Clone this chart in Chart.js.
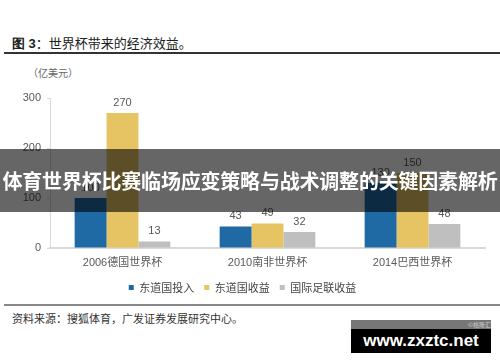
<!DOCTYPE html>
<html>
<head>
<meta charset="utf-8">
<script src="https://cdn.jsdelivr.net/npm/chart.js@4.4.0/dist/chart.umd.min.js"></script>
<style>
  html, body { margin: 0; padding: 0; background: #fff; }
  #wrap { position: relative; width: 500px; height: 362px; overflow: hidden; font-family: "Noto Sans CJK SC", "Liberation Sans", sans-serif; }
  #title { position: absolute; left: 12px; top: 33px; font-size: 13px; color: #222; }
  #title b { font-family: "Liberation Sans", sans-serif; }
  #topLine { position: absolute; left: 4px; right: 0; top: 52px; height: 2px; background: #333; }
  #unit { position: absolute; left: 28px; top: 65px; font-size: 10px; color: #666; }
  #chartBox { position: absolute; left: 0; top: 62px; width: 500px; height: 241px; }
  #botLine { position: absolute; left: 4px; right: 0; top: 304px; height: 2px; background: #888; }
  #source { position: absolute; left: 12px; top: 310px; font-size: 11px; color: #333; }
  #banner { position: absolute; left: 0; top: 149px; width: 500px; height: 63px; background: rgba(0,0,0,0.6);
            color: #fff; font-weight: bold; font-size: 20px; line-height: 63px; text-align: center; white-space: nowrap; letter-spacing: -0.2px; }
  #wmGray { position: absolute; left: 351px; top: 320px; width: 140px; height: 9px; background: #777; color: #ccc; font-size: 6px; text-align: right; line-height: 9px; }
  #wm { position: absolute; left: 351px; top: 329px; width: 140px; height: 24px; background: #000; color: #fff;
        font-family: "Liberation Sans", sans-serif; font-weight: bold; font-size: 17px; line-height: 24px; text-align: center; }
</style>
</head>
<body>
<div id="wrap">
  <div id="title"><b>图 3</b>：世界杯带来的经济效益。</div>
  <div id="topLine"></div>
  <div id="unit">（亿美元）</div>
  <div id="chartBox"><canvas id="worldCupCanvas" width="500" height="241"></canvas></div>
  <div id="botLine"></div>
  <div id="source">资料来源：搜狐体育，广发证券发展研究中心。</div>
  <div id="banner">体育世界杯比赛临场应变策略与战术调整的关键因素解析</div>
  <div id="wmGray">©格隆汇</div>
  <div id="wm">www.zxztc.net</div>
</div>
<script>
var categories = ['2006德国世界杯', '2010南非世界杯', '2014巴西世界杯'];
var hostInput = [100, 43, 130];
var hostIncome = [270, 49, 150];
var fifaIncome = [13, 32, 48];
var yTicks = [0, 100, 200, 300];

// numbers above each bar
var barLabels = {
    id: 'barLabels',
    afterDatasetsDraw: function (chart) {
        var ctx = chart.ctx;
        ctx.save();
        ctx.font = '11px "Liberation Sans", sans-serif';
        ctx.fillStyle = '#595959';
        ctx.textAlign = 'center';
        ctx.textBaseline = 'bottom';
        chart.data.datasets.forEach(function (ds, i) {
            chart.getDatasetMeta(i).data.forEach(function (bar, j) {
                ctx.fillText(ds.data[j], bar.x, bar.y - 5);
            });
        });
        ctx.restore();
    }
};

var ctx = document.getElementById('worldCupCanvas');
new Chart(ctx, {
    type: 'bar',
    data: {
        labels: categories,
        datasets: [
            { label: '东道国投入', data: hostInput, backgroundColor: '#1f6aa5' },  // blue
            { label: '东道国收益', data: hostIncome, backgroundColor: '#e6c463' }, // yellow
            { label: '国际足联收益', data: fifaIncome, backgroundColor: '#bfbfbf' } // gray
        ]
    },
    options: {
        responsive: false,
        animation: false,
        layout: { padding: { top: 36, right: 15, left: 0, bottom: 0 } },
        datasets: { bar: { categoryPercentage: 0.66, barPercentage: 1 } },
        plugins: {
            tooltip: { enabled: false },
            legend: {
                position: 'bottom',
                labels: {
                    boxWidth: 5, boxHeight: 5, padding: 10,
                    color: '#444',
                    font: { size: 11, family: '"Noto Sans CJK SC", sans-serif' }
                }
            }
        },
        scales: {
            x: {
                grid: { display: false, drawTicks: false },
                border: { color: '#d9d9d9', width: 2 },
                ticks: { color: '#595959', font: { size: 11, family: '"Liberation Sans", "Noto Sans CJK SC", sans-serif' }, padding: 8 },
                afterFit: function (s) { s.height = 24; }
            },
            y: {
                min: 0, max: 300,
                afterBuildTicks: function (s) { s.ticks = yTicks.map(function (v) { return { value: v }; }); },
                grid: { drawOnChartArea: false, tickLength: 3, color: '#d9d9d9' },
                border: { color: '#d9d9d9' },
                ticks: { color: '#595959', font: { size: 11, family: '"Liberation Sans", sans-serif' }, padding: 6 },
                afterFit: function (s) { s.width = 50; }
            }
        }
    },
    plugins: [barLabels]
});
</script>
</body>
</html>
